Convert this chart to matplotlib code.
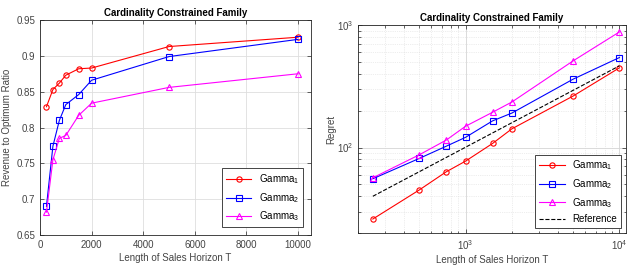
import matplotlib
matplotlib.use('Agg')
import matplotlib.pyplot as plt
from matplotlib.ticker import LogLocator, NullFormatter

plt.rcParams['font.family'] = ['Liberation Sans', 'DejaVu Sans']
plt.rcParams['mathtext.fontset'] = 'custom'
plt.rcParams['mathtext.rm'] = 'Liberation Sans'
plt.rcParams['mathtext.it'] = 'Liberation Sans'

T = [250, 500, 750, 1000, 1500, 2000, 5000, 10000]
labels = ['Gamma$_1$', 'Gamma$_2$', 'Gamma$_3$']

# revenue to optimum ratio
ratio_g1 = [0.829, 0.853, 0.862, 0.873, 0.882, 0.883, 0.913, 0.926]
ratio_g2 = [0.690, 0.774, 0.810, 0.832, 0.846, 0.866, 0.899, 0.923]
ratio_g3 = [0.682, 0.755, 0.785, 0.789, 0.817, 0.834, 0.856, 0.875]

# regret
regret_g1 = [26.1, 45.0, 63.4, 77.4, 108, 142, 263, 447]
regret_g2 = [55.6, 81.4, 102.5, 121, 165, 191, 361, 542]
regret_g3 = [56.6, 87.1, 115, 149, 194, 235, 509, 877]
ref_T = [250, 10000]
ref_regret = [40, 464]

colors = ['#ff0000', '#0000ff', '#ff00ff']
markers = ['o', 's', '^']
fs = 7
txt = '#444444'

fig = plt.figure(figsize=(6.29, 2.65), dpi=100)
ax1 = fig.add_axes([0.0636, 0.113, 0.4308, 0.8115])
ax2 = fig.add_axes([0.569, 0.12, 0.426, 0.786])


def style(ax):
    ax.tick_params(direction='in', which='both', top=True, right=True,
                   labelsize=fs, colors='#262626', labelcolor=txt, length=3, width=0.5)
    ax.tick_params(which='minor', length=1.8)
    for s in ax.spines.values():
        s.set_linewidth(0.6)
        s.set_color('#262626')
    ax.set_axisbelow(True)


for ys, c, m, lab in zip([ratio_g1, ratio_g2, ratio_g3], colors, markers, labels):
    ax1.plot(T, ys, color=c, marker=m, markersize=3.8, mfc='none', mew=0.8, lw=0.8, label=lab)
ax1.set_xlim(0, 10500)
ax1.set_ylim(0.65, 0.95)
ax1.set_xticks([0, 2000, 4000, 6000, 8000, 10000])
ax1.set_yticks([0.65, 0.7, 0.75, 0.8, 0.85, 0.9, 0.95])
ax1.set_yticklabels(['0.65', '0.7', '0.75', '0.8', '0.85', '0.9', '0.95'])
ax1.grid(True, color='#dedede', lw=0.6)
style(ax1)
ax1.set_title('Cardinality Constrained Family', fontsize=fs, fontweight='bold', pad=3)
ax1.set_xlabel('Length of Sales Horizon T', fontsize=fs, color=txt, labelpad=2)
ax1.set_ylabel('Revenue to Optimum Ratio', fontsize=fs, color=txt, labelpad=3)
leg = ax1.legend(loc='lower right', fontsize=fs, fancybox=False, edgecolor='#262626',
                 framealpha=1, handlelength=2.6, borderaxespad=0.8)
leg.get_frame().set_linewidth(0.6)

for ys, c, m, lab in zip([regret_g1, regret_g2, regret_g3], colors, markers, labels):
    ax2.plot(T, ys, color=c, marker=m, markersize=3.8, mfc='none', mew=0.8, lw=0.8, label=lab)
ax2.plot(ref_T, ref_regret, 'k--', lw=0.8, label='Reference')
ax2.set_xscale('log')
ax2.set_yscale('log')
ax2.set_xlim(200, 11000)
ax2.set_ylim(20, 1000)
ax2.xaxis.set_major_locator(LogLocator(base=10, numticks=5))
ax2.xaxis.set_minor_locator(LogLocator(base=10, subs=range(2, 10), numticks=20))
ax2.xaxis.set_minor_formatter(NullFormatter())
ax2.yaxis.set_minor_formatter(NullFormatter())
ax2.grid(True, which='major', color='#d5d5d5', lw=0.6)
ax2.grid(True, which='minor', color='#dcdcdc', lw=0.5, ls=':')
style(ax2)
ax2.set_title('Cardinality Constrained Family', fontsize=fs, fontweight='bold', pad=3)
ax2.set_xlabel('Length of Sales Horizon T', fontsize=fs, color=txt, labelpad=2)
ax2.set_ylabel('Regret', fontsize=fs, color=txt, labelpad=0)
leg = ax2.legend(loc='lower right', fontsize=fs, fancybox=False, edgecolor='#262626',
                 framealpha=1, handlelength=2.6, borderaxespad=0.5)
leg.get_frame().set_linewidth(0.6)

fig.savefig('out.png', dpi=100)
